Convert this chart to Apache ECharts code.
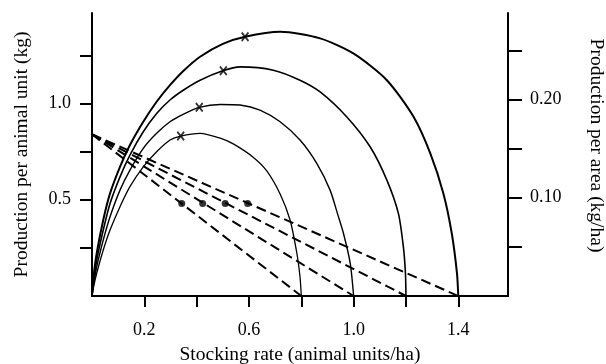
<!DOCTYPE html>
<html><head><meta charset="utf-8">
<script src="https://cdn.jsdelivr.net/npm/echarts@6/dist/echarts.min.js"></script>
<style>html,body{margin:0;padding:0;background:#fff}#c{width:606px;height:364px}</style>
</head><body><div id="c"></div>
<script>
// ---- data ----
const xTicks = [0.2, 0.4, 0.6, 0.8, 1.0, 1.2, 1.4];
const xLabels = [0.2, 0.6, 1.0, 1.4];
const leftTicks = [0.25, 0.5, 0.75, 1.0, 1.25];
const leftLabels = [0.5, 1.0];
const rightTicks = [0.05, 0.10, 0.15, 0.20, 0.25];
const rightLabels = [0.10, 0.20];

// stocking-rate capacities where each dashed line reaches zero
const capacities = [0.8, 1.0, 1.2, 1.4];
const interceptY = 0.84;

// production curves (stocking rate, production per animal unit)
const curve08 = [[0,0],[0.005,0.04],[0.018,0.118],[0.043,0.239],[0.069,0.343],[0.107,0.464],[0.145,0.568],[0.196,0.671],[0.247,0.749],[0.298,0.81],[0.339,0.831],[0.413,0.845],[0.49,0.82],[0.54,0.79],[0.617,0.72],[0.668,0.65],[0.719,0.53],[0.757,0.395],[0.783,0.222],[0.795,0.1],[0.8,0]];
const curve10 = [[0,0],[0.005,0.05],[0.018,0.152],[0.043,0.291],[0.069,0.412],[0.107,0.55],[0.145,0.654],[0.196,0.767],[0.247,0.845],[0.298,0.905],[0.35,0.945],[0.41,0.98],[0.49,0.995],[0.566,0.992],[0.642,0.966],[0.719,0.905],[0.795,0.81],[0.859,0.689],[0.91,0.55],[0.94,0.42],[0.961,0.326],[0.987,0.17],[1.0,0]];
const curve12 = [[0,0],[0.005,0.07],[0.018,0.187],[0.043,0.343],[0.069,0.481],[0.107,0.619],[0.145,0.732],[0.196,0.853],[0.247,0.948],[0.298,1.018],[0.35,1.07],[0.413,1.121],[0.5,1.17],[0.566,1.19],[0.693,1.173],[0.795,1.121],[0.872,1.06],[0.974,0.93],[1.063,0.775],[1.127,0.602],[1.171,0.429],[1.19,0.256],[1.198,0.118],[1.2,0]];
const curve14 = [[0,0],[0.005,0.09],[0.018,0.222],[0.043,0.395],[0.069,0.533],[0.107,0.671],[0.145,0.784],[0.196,0.905],[0.247,1.009],[0.298,1.095],[0.35,1.17],[0.413,1.243],[0.5,1.31],[0.585,1.347],[0.72,1.372],[0.872,1.338],[0.999,1.26],[1.127,1.121],[1.229,0.931],[1.293,0.741],[1.343,0.533],[1.375,0.326],[1.395,0.118],[1.4,0]];

// x marks on the curves
const markX = [0.339, 0.41, 0.502, 0.585];
const markY = [0.831, 0.98, 1.17, 1.347];
// dots on the dashed lines
const dotX = [0.343, 0.423, 0.509, 0.595];
const dotY = [0.48, 0.48, 0.48, 0.48];

// ---- chart ----
const FONT = 'Liberation Serif';
const txt = {fontFamily: FONT, fontSize: 18, color: '#000'};
const nameTxt = {fontFamily: FONT, fontSize: 19.5, color: '#000'};
const curves = [curve08, curve10, curve12, curve14];
const curveWidths = [1.3, 1.4, 1.6, 2];
const series = [];
curves.forEach((c, i) => series.push({
  type: 'line', data: c, smooth: 0.25, symbol: 'none', silent: true,
  lineStyle: {color: '#000', width: curveWidths[i]}
}));
capacities.forEach(k => series.push({
  type: 'line', data: [[0, interceptY], [k, 0]], symbol: 'none', silent: true,
  lineStyle: {color: '#000', width: 2, type: [10, 5]}
}));
series.push({
  type: 'scatter', silent: true,
  data: markX.map((x, i) => [x, markY[i]]),
  symbol: 'path://M0,1.5 L1.5,0 L5,3.5 L8.5,0 L10,1.5 L6.5,5 L10,8.5 L8.5,10 L5,6.5 L1.5,10 L0,8.5 L3.5,5 Z',
  symbolSize: [8, 10], itemStyle: {color: '#000'}
});
series.push({
  type: 'scatter', silent: true,
  data: dotX.map((x, i) => [x, dotY[i]]),
  symbol: 'circle', symbolSize: 7, itemStyle: {color: '#000'}
});

const axisLine = {show: true, lineStyle: {color: '#000', width: 2}};
const chart = echarts.init(document.getElementById('c'));
chart.setOption({
  animation: false,
  backgroundColor: '#fff',
  grid: {left: 92, right: 98, top: 13, bottom: 68, containLabel: false, outerBoundsMode: 'none'},
  xAxis: {
    type: 'value', min: 0, max: 1.59,
    axisLine: axisLine,
    axisTick: {show: true, customValues: xTicks, length: 11, lineStyle: {color: '#000', width: 2}},
    axisLabel: Object.assign({customValues: xLabels, margin: 25, formatter: v => v.toFixed(1)}, txt),
    splitLine: {show: false},
    name: 'Stocking rate (animal units/ha)', nameLocation: 'middle', nameGap: 49,
    nameTextStyle: nameTxt
  },
  yAxis: [{
    type: 'value', min: 0, max: 1.47, position: 'left',
    axisLine: axisLine,
    axisTick: {show: true, customValues: leftTicks, length: 12, lineStyle: {color: '#000', width: 2}},
    axisLabel: Object.assign({customValues: leftLabels, margin: 21, formatter: v => v.toFixed(1)}, txt),
    splitLine: {show: false},
    name: 'Production per animal unit (kg)', nameLocation: 'middle', nameGap: 60,
    nameTextStyle: nameTxt
  }, {
    type: 'value', min: 0, max: 0.288, position: 'right',
    axisLine: axisLine,
    axisTick: {show: true, customValues: rightTicks, length: 14, lineStyle: {color: '#000', width: 2}},
    axisLabel: Object.assign({customValues: rightLabels, margin: 22, formatter: v => v.toFixed(2)}, txt),
    splitLine: {show: false},
    name: 'Production per area (kg/ha)', nameLocation: 'middle', nameGap: 78, nameRotate: -90,
    nameTextStyle: Object.assign({padding: [0, 18, 0, 0]}, nameTxt)
  }],
  series: series
});
</script>
</body></html>
